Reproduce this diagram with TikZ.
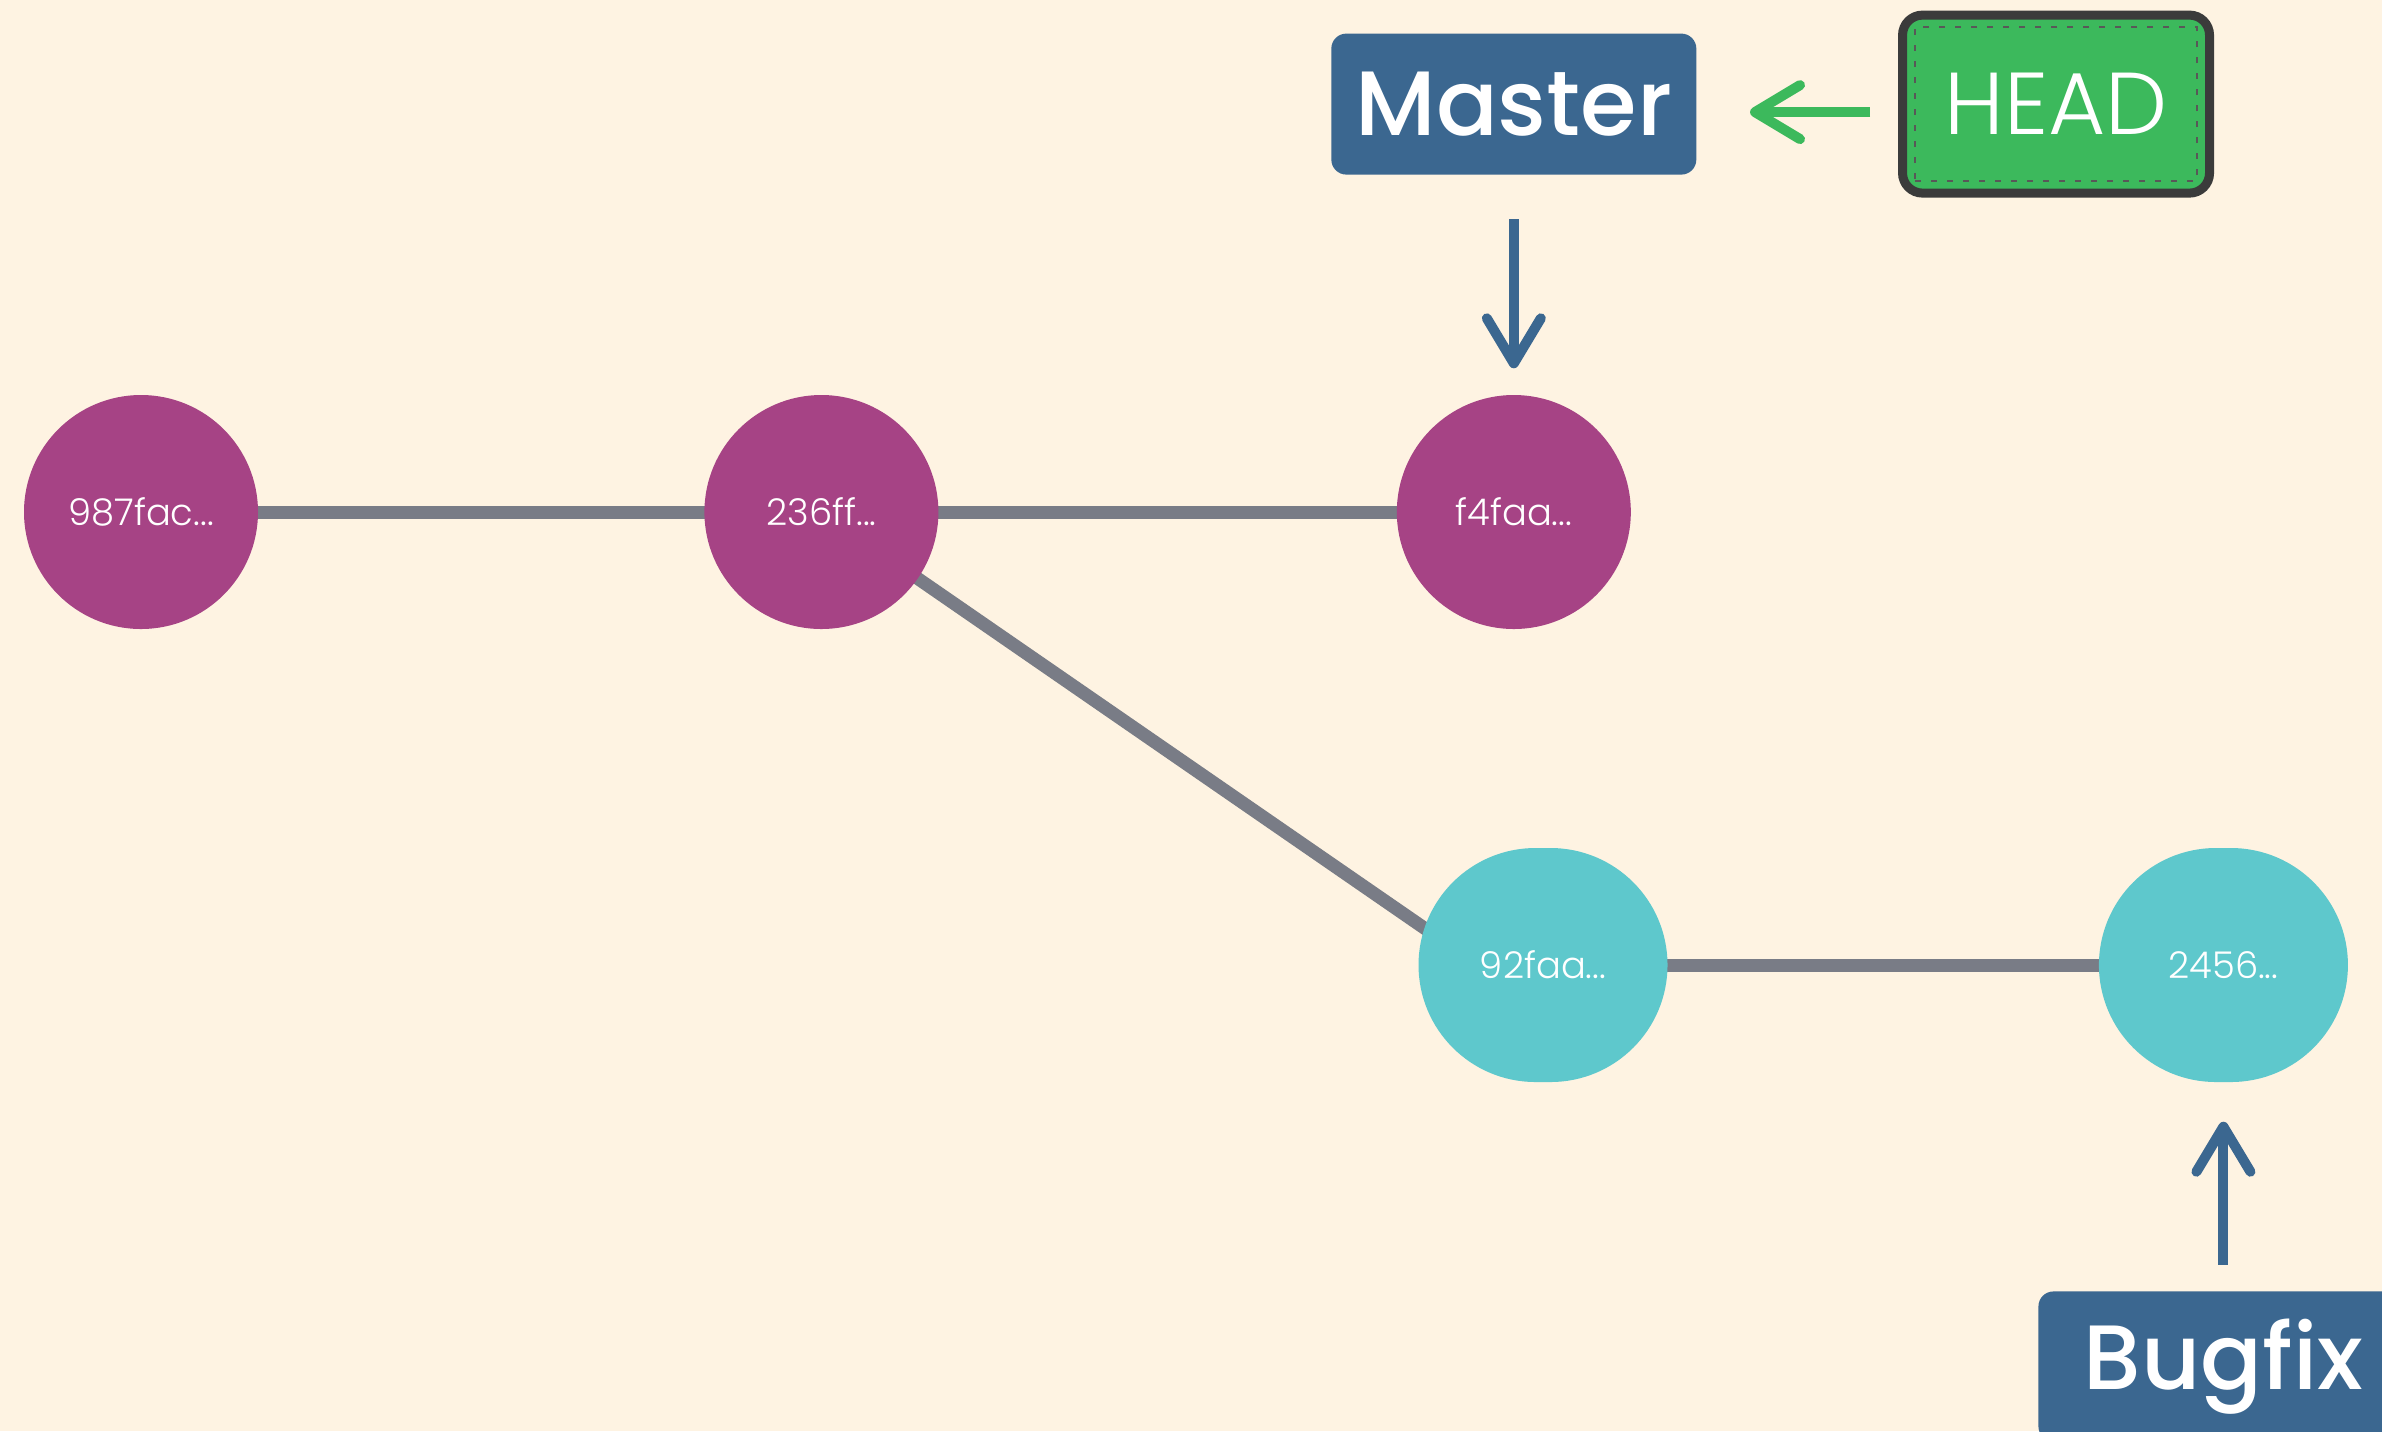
\documentclass[tikz,border=0pt]{standalone}
\usepackage{fontspec}
\setmainfont{Poppins}
\newfontfamily\thinfont{Poppins}[UprightFont=* Light]
\newfontfamily\boldfont{Poppins}[UprightFont=* Medium]
\usetikzlibrary{arrows.meta,positioning,backgrounds}
\definecolor{paper}{RGB}{254,243,226}
\definecolor{plum}{RGB}{166,67,133}
\definecolor{aquagreen}{RGB}{94,200,204}
\definecolor{refblue}{RGB}{59,103,144}
\definecolor{headgreen}{RGB}{60,185,92}
\definecolor{edgegray}{RGB}{121,124,134}
\definecolor{darkrim}{RGB}{59,59,59}
\tikzset{%
  % Specifications for style of nodes:
          commit/.style = {circle, minimum size=2.34cm, inner sep=0pt,
                           text=white, font=\thinfont\fontsize{10.5}{12}\selectfont},
    mastercommit/.style = {commit, fill=plum},
    bugfixcommit/.style = {commit, rectangle, rounded corners=1.17cm,
                           minimum width=2.49cm, minimum height=2.34cm,
                           fill=aquagreen},
          branch/.style = {rectangle, rounded corners=1.5mm, fill=refblue,
                           text=white, font=\boldfont\fontsize{26}{31}\selectfont},
         headbox/.style = {rectangle, rounded corners=2mm, fill=headgreen,
                           draw=darkrim, line width=0.9mm,
                           minimum width=3.07cm, minimum height=1.78cm,
                           text=white, font=\thinfont\fontsize{25}{30}\selectfont},
       headframe/.style = {rectangle, draw=darkrim!85, line width=0.25mm,
                           dash pattern=on 0.6mm off 1mm,
                           minimum width=2.82cm, minimum height=1.54cm},
  % Specifications for style of connectors:
            link/.style = {draw=edgegray, line width=1.3mm},
         pointer/.style = {line width=1mm,
                           -{Straight Barb[length=4.5mm,width=5.4mm,round]}},
}

\begin{document}
\begin{tikzpicture}[node distance=4.5cm]
    \useasboundingbox (0,0) rectangle (23.82,-14.31);

    % commits
    \node (c987)   [mastercommit] at (1.41,-5.12)     {987fac...};
    \node (c236)   [mastercommit, right=4.45cm of c987] {236ff...};
    \node (cf4f)   [mastercommit, right=4.57cm of c236] {f4faa...};
    \node (c92f)   [bugfixcommit] at (15.43,-9.65)    {92faa...};
    \node (c245)   [bugfixcommit, right=4.3cm of c92f] {2456...};

    % branches and HEAD
    \node (master) [branch, minimum width=3.65cm, minimum height=1.41cm,
                    above=2.19cm of cf4f]             {Master};
    \node (head)   [headbox, right=2.01cm of master]  {HEAD};
    \node (headin) [headframe] at (head.center)       {};
    \node (bugfix) [branch, minimum width=3.7cm, minimum height=1.5cm,
                    below=2.08cm of c245]             {Bugfix};

    \begin{scope}[on background layer]
        \fill[paper] (0,0) rectangle (23.82,-14.31);
        \draw[link] (c987.center) -- (c236.center);
        \draw[link] (c236.center) -- (cf4f.center);
        \draw[link] (c236.center) -- ([yshift=-4.5mm]c92f.center);
        \draw[link] (c92f.center) -- (c245.center);
    \end{scope}

    \draw[pointer, refblue, shorten <=4.4mm, shorten >=2.6mm]
        (master) -- (cf4f);
    \draw[pointer, headgreen, shorten <=2.8mm, shorten >=5.3mm]
        ([yshift=-0.8mm]head.west) -- ([yshift=-0.8mm]master.east);
    \draw[pointer, refblue, shorten <=2.6mm, shorten >=3.9mm]
        (bugfix) -- (c245);

\end{tikzpicture}
\end{document}
